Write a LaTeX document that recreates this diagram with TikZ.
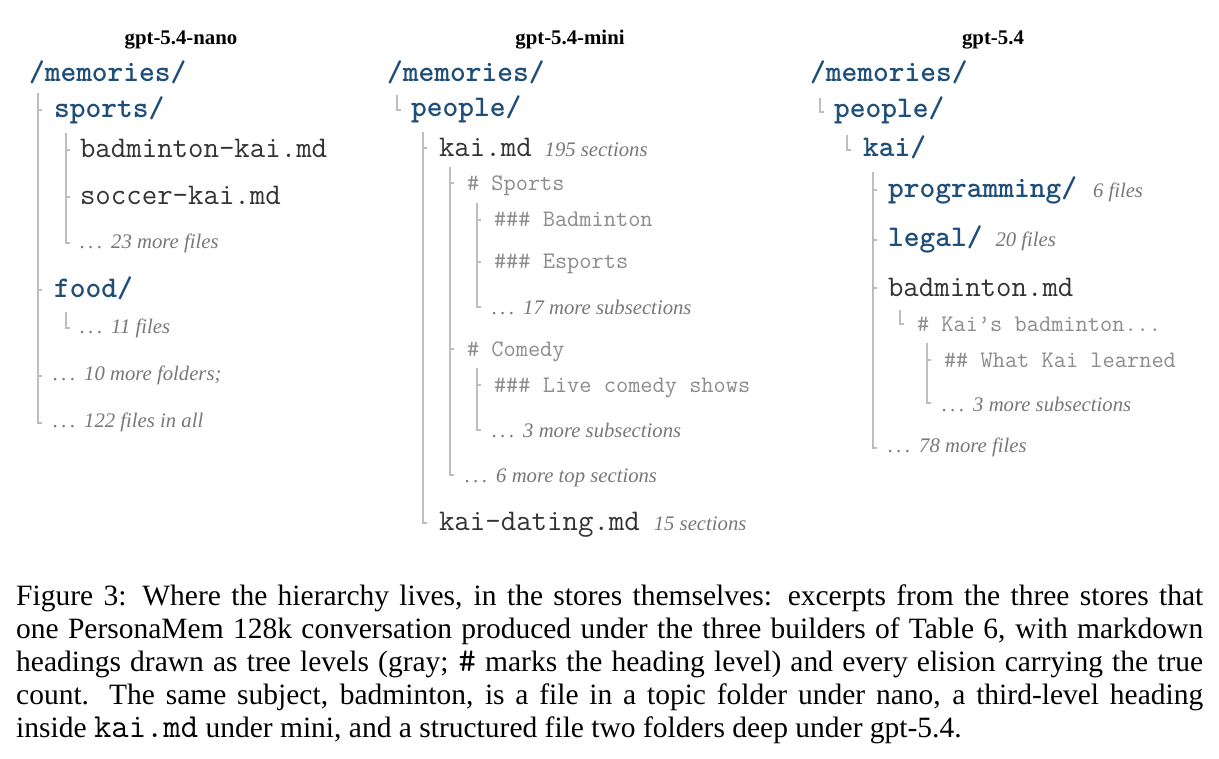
\documentclass[tikz,border=0pt]{standalone}
\usepackage{fontspec}
\setmainfont{Liberation Serif}
\usetikzlibrary{calc}
\definecolor{fblue}{RGB}{31,78,121}
\definecolor{fdark}{RGB}{51,51,51}
\definecolor{hgray}{RGB}{140,140,140}
\definecolor{igray}{RGB}{120,120,120}
\definecolor{lgray}{RGB}{190,190,190}
\newcommand\mybig{\fontsize{30}{34}\selectfont\ttfamily}
\newcommand\fold[1]{{\mybig\bfseries\color{fblue}#1}}
\newcommand\fil[1]{{\mybig\color{fdark}#1}}
\newcommand\hd[1]{{\fontsize{23.7}{27}\selectfont\ttfamily\color{hgray}#1}}
\newcommand\an[1]{{\fontsize{20.7}{24}\selectfont\itshape\color{igray}#1}}
\newcommand\eli{.\kern0.17em.\kern0.17em.\kern0.17em\ }
\newcommand\capline[1]{\makebox[1187pt][s]{#1}}
\newcommand\cmono[1]{{\fontsize{33.7}{33}\selectfont\ttfamily #1}}
\begin{document}
\begin{tikzpicture}[x=1pt,y=-1pt,
  entry/.style={anchor=base west, inner sep=0pt, outer sep=0pt},
  title/.style={anchor=base, inner sep=0pt, font=\fontsize{20.8}{24}\selectfont\bfseries},
  capt/.style={anchor=base west, inner sep=0pt, font=\fontsize{29.5}{33}\selectfont},
  tl/.style={draw=lgray, line width=1.6pt}]
\path[use as bounding box, fill=white] (0,0) rectangle (1219,759);

% ---------------- column 1: nano
\node[title] (t1) at (181,45) {gpt-5.4-nano};
\node[entry] (a0) at (29,82) {\fold{/memories/}};
\node[entry] (a1) at (54,118) {\fold{sports/}};
\node[entry] (a11) at (80,158) {\fil{badminton-kai.md}};
\node[entry] (a12) at (80,205) {\fil{soccer-kai.md}};
\node[entry] (a13) at (80,249) {\an{\eli 23 more files}};
\node[entry] (a2) at (54,298) {\fold{food/}};
\node[entry] (a21) at (80,334) {\an{\eli 11 files}};
\node[entry] (a3) at (53,381) {\an{\eli 10 more folders;}};
\node[entry] (a4) at (53,428) {\an{\eli 122 files in all}};

\coordinate (La) at ($(a1.base west)+(-16,0)$);
\draw[tl] ($(a0.base -| La)+(0,11)$) |- ($(a4.base -| La)+(4,-5)$);
\draw[tl] ($(a1.base -| La)+(0,-8)$) -- ++(4,0);
\draw[tl] ($(a2.base -| La)+(0,-8)$) -- ++(4,0);
\draw[tl] ($(a3.base -| La)+(0,-5)$) -- ++(4,0);
\coordinate (La1) at ($(a11.base west)+(-14,0)$);
\draw[tl] ($(a1.base -| La1)+(0,15)$) |- ($(a13.base -| La1)+(4,-6)$);
\draw[tl] ($(a11.base -| La1)+(0,-8)$) -- ++(4,0);
\draw[tl] ($(a12.base -| La1)+(0,-8)$) -- ++(4,0);
\coordinate (La2) at ($(a21.base west)+(-14,0)$);
\draw[tl] ($(a2.base -| La2)+(0,14)$) |- ($(a21.base -| La2)+(4,-6)$);

% ---------------- column 2: mini
\node[title] (t2) at (570,45) {gpt-5.4-mini};
\node[entry] (b0) at (387,82) {\fold{/memories/}};
\node[entry] (b1) at (411,117) {\fold{people/}};
\node[entry] (b11) at (439,157) {\fil{kai.md}\hspace{13pt}\an{195 sections}};
\node[entry] (b111) at (467,191) {\hd{\# Sports}};
\node[entry] (b1111) at (494,227) {\hd{\#\#\# Badminton}};
\node[entry] (b1112) at (494,269) {\hd{\#\#\# Esports}};
\node[entry] (b1113) at (492,315) {\an{\eli 17 more subsections}};
\node[entry] (b112) at (467,357) {\hd{\# Comedy}};
\node[entry] (b1121) at (494,392) {\hd{\#\#\# Live comedy shows}};
\node[entry] (b1122) at (492,438) {\an{\eli 3 more subsections}};
\node[entry] (b113) at (465,482) {\an{\eli 6 more top sections}};
\node[entry] (b12) at (439,530) {\fil{kai-dating.md}\hspace{14pt}\an{15 sections}};

\coordinate (Lb) at ($(b1.base west)+(-14,0)$);
\draw[tl] ($(b0.base -| Lb)+(0,13)$) |- ($(b1.base -| Lb)+(4,-7)$);
\coordinate (Lb1) at ($(b11.base west)+(-16,0)$);
\draw[tl] ($(b1.base -| Lb1)+(0,15)$) |- ($(b12.base -| Lb1)+(4,-7)$);
\draw[tl] ($(b11.base -| Lb1)+(0,-9)$) -- ++(4,0);
\coordinate (Lb11) at ($(b111.base west)+(-17,0)$);
\draw[tl] ($(b11.base -| Lb11)+(0,10)$) |- ($(b113.base -| Lb11)+(4,-7)$);
\draw[tl] ($(b111.base -| Lb11)+(0,-8)$) -- ++(4,0);
\draw[tl] ($(b112.base -| Lb11)+(0,-8)$) -- ++(4,0);
\coordinate (Lb111) at ($(b1111.base west)+(-17,0)$);
\draw[tl] ($(b111.base -| Lb111)+(0,12)$) |- ($(b1113.base -| Lb111)+(4,-8)$);
\draw[tl] ($(b1111.base -| Lb111)+(0,-7)$) -- ++(4,0);
\draw[tl] ($(b1112.base -| Lb111)+(0,-7)$) -- ++(4,0);
\coordinate (Lb112) at ($(b1121.base west)+(-17,0)$);
\draw[tl] ($(b112.base -| Lb112)+(0,11)$) |- ($(b1122.base -| Lb112)+(4,-8)$);
\draw[tl] ($(b1121.base -| Lb112)+(0,-7)$) -- ++(4,0);

% ---------------- column 3: gpt-5.4
\node[title] (t3) at (993,45) {gpt-5.4};
\node[entry] (c0) at (810,82) {\fold{/memories/}};
\node[entry] (c1) at (834,118) {\fold{people/}};
\node[entry] (c11) at (863,157) {\fold{kai/}};
\node[entry] (c111) at (888,198) {\fold{programming/}\hspace{16pt}\an{6 files}};
\node[entry] (c112) at (888,247) {\fold{legal/}\hspace{13pt}\an{20 files}};
\node[entry] (c113) at (888,297) {\fil{badminton.md}};
\node[entry] (c1131) at (917,332) {\hd{\# Kai’s badminton...}};
\node[entry] (c11311) at (944,368) {\hd{\#\# What Kai learned}};
\node[entry] (c11312) at (942,411) {\an{\eli 3 more subsections}};
\node[entry] (c114) at (888,453) {\an{\eli 78 more files}};

\coordinate (Lc) at ($(c1.base west)+(-14,0)$);
\draw[tl] ($(c0.base -| Lc)+(0,16)$) |- ($(c1.base -| Lc)+(4,-6)$);
\coordinate (Lc1) at ($(c11.base west)+(-16,0)$);
\draw[tl] ($(c1.base -| Lc1)+(0,17)$) |- ($(c11.base -| Lc1)+(4,-7)$);
\coordinate (Lc11) at ($(c111.base west)+(-15,0)$);
\draw[tl] ($(c11.base -| Lc11)+(0,15)$) |- ($(c114.base -| Lc11)+(4,-5)$);
\draw[tl] ($(c111.base -| Lc11)+(0,-8)$) -- ++(4,0);
\draw[tl] ($(c112.base -| Lc11)+(0,-7)$) -- ++(4,0);
\draw[tl] ($(c113.base -| Lc11)+(0,-9)$) -- ++(4,0);
\coordinate (Lc113) at ($(c1131.base west)+(-17,0)$);
\draw[tl] ($(c113.base -| Lc113)+(0,13)$) |- ($(c1131.base -| Lc113)+(4,-8)$);
\coordinate (Lc1131) at ($(c11311.base west)+(-17,0)$);
\draw[tl] ($(c1131.base -| Lc1131)+(0,11)$) |- ($(c11312.base -| Lc1131)+(4,-8)$);
\draw[tl] ($(c11311.base -| Lc1131)+(0,-8)$) -- ++(4,0);

% ---------------- caption
\node[capt] (cap1) at (16,605) {\capline{Figure 3: Where the hierarchy lives, in the stores themselves: excerpts from the three stores that}};
\node[capt] (cap2) at (16,638) {\capline{one PersonaMem 128k conversation produced under the three builders of Table 6, with markdown}};
\node[capt] (cap3) at (16,671) {\capline{headings drawn as tree levels (gray; \cmono{\#} marks the heading level) and every elision carrying the true}};
\node[capt] (cap4) at (16,704) {\capline{count. The same subject, badminton, is a file in a topic folder under nano, a third-level heading}};
\node[capt] (cap5) at (16,737) {inside \cmono{kai.md} under mini, and a structured file two folders deep under gpt-5.4.};
\end{tikzpicture}
\end{document}
